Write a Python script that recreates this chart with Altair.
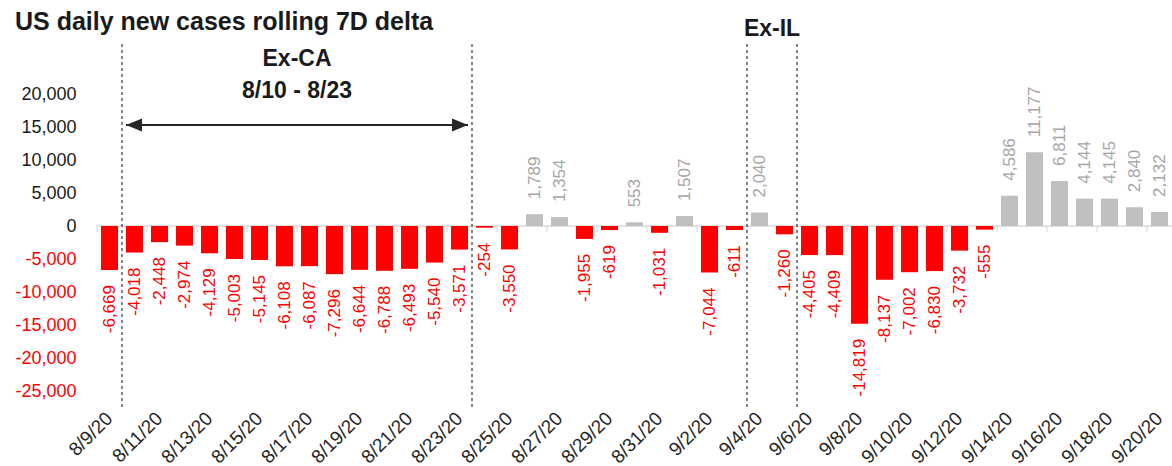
import altair as alt
import pandas as pd

# Daily change in the 7-day rolling average of new US cases
dates = [
    "8/9/20", "8/10/20", "8/11/20", "8/12/20", "8/13/20", "8/14/20", "8/15/20",
    "8/16/20", "8/17/20", "8/18/20", "8/19/20", "8/20/20", "8/21/20", "8/22/20",
    "8/23/20", "8/24/20", "8/25/20", "8/26/20", "8/27/20", "8/28/20", "8/29/20",
    "8/30/20", "8/31/20", "9/1/20", "9/2/20", "9/3/20", "9/4/20", "9/5/20",
    "9/6/20", "9/7/20", "9/8/20", "9/9/20", "9/10/20", "9/11/20", "9/12/20",
    "9/13/20", "9/14/20", "9/15/20", "9/16/20", "9/17/20", "9/18/20", "9/19/20",
    "9/20/20",
]
deltas = [
    -6669, -4018, -2448, -2974, -4129, -5003, -5145,
    -6108, -6087, -7296, -6644, -6788, -6493, -5540,
    -3571, -254, -3550, 1789, 1354, -1955, -619,
    553, -1031, 1507, -7044, -611, 2040, -1260,
    -4405, -4409, -14819, -8137, -7002, -6830, -3732,
    -555, 4586, 11177, 6811, 4144, 4145, 2840,
    2132,
]
tick_dates = dates[::2]
y_ticks = [-25000, -20000, -15000, -10000, -5000, 0, 5000, 10000, 15000, 20000]

# Period markers: the dashed separators sit after these dates
separator_after = ["8/9/20", "8/23/20", "9/3/20", "9/5/20"]
ca_start, ca_end = "8/10/20", "8/23/20"

RED = "#FF0000"
BAR_GRAY = "#BFBFBF"
LABEL_GRAY = "#A6A6A6"
DARK = "#1a1a1a"
FONT = "Liberation Sans"

# thousands separator with a plain hyphen for negatives
FMT = "replace(format({v}, ','), '\u2212', '-')"

df = pd.DataFrame({"date": dates, "delta": deltas})
df["sign"] = ["neg" if v < 0 else "pos" for v in deltas]

x_scale = alt.Scale(domain=dates, paddingInner=0.32, paddingOuter=0.16)
y_scale = alt.Scale(domain=[-25000, 20000], nice=False, zero=False)

x_axis = alt.Axis(
    values=tick_dates, labelAngle=-45, labelAlign="right",
    labelBaseline="middle", labelPadding=24, labelFontSize=19,
    labelFont=FONT, labelColor="#262626", domain=False, ticks=False,
    grid=False, labelOverlap=False, labelBound=False,
)
y_axis = alt.Axis(
    values=y_ticks, labelExpr=FMT.format(v="datum.value"),
    domain=False, ticks=False, grid=False,
    labelPadding=21, labelFontSize=18, labelFont=FONT,
    labelColor={"condition": {"test": "datum.value < 0", "value": RED}, "value": DARK},
)


def xenc(field="date", band=0.5):
    return alt.X(f"{field}:N", scale=x_scale, sort=dates, bandPosition=band, title=None, axis=x_axis)


def yenc(field):
    return alt.Y(f"{field}:Q", scale=y_scale, title=None, axis=y_axis)


bars = alt.Chart(df).mark_bar().encode(
    x=xenc(),
    y=yenc("delta"),
    color=alt.Color("sign:N", scale=alt.Scale(domain=["neg", "pos"], range=[RED, BAR_GRAY]), legend=None),
)

# Horizontal zero line with ticks between every second category
zero_line = alt.Chart(pd.DataFrame({"v": [0]})).mark_rule(color="#D9D9D9", strokeWidth=1.5).encode(
    y=yenc("v"), x=alt.value(0), x2=alt.value(1075)
)
zero_ticks = alt.Chart(pd.DataFrame({"date": tick_dates, "v": [0] * len(tick_dates)})).mark_tick(
    orient="vertical", size=6, thickness=1.5, color="#D9D9D9", yOffset=3, xOffset=-4
).encode(x=xenc(band=0), y=yenc("v"))

labelled = alt.Chart(df).transform_calculate(label=FMT.format(v="datum.delta"))

neg_labels = labelled.transform_filter("datum.delta < 0").mark_text(
    angle=270, align="right", baseline="middle", dx=-15, color=RED, font=FONT, fontSize=17
).encode(x=xenc(), y=yenc("delta"), text="label:N")

pos_labels = labelled.transform_filter("datum.delta >= 0").mark_text(
    angle=270, align="left", baseline="middle", dx=15, color=LABEL_GRAY, font=FONT, fontSize=17
).encode(x=xenc(), y=yenc("delta"), text="label:N")

separators = alt.Chart(pd.DataFrame({"date": separator_after})).mark_rule(
    color="#333333", strokeWidth=1.2, strokeDash=[3, 3], xOffset=4
).encode(x=xenc(band=1), y=alt.value(-50), y2=alt.value(314))

span = pd.DataFrame({"date": [ca_start], "date_end": [ca_end]})
arrow_line = alt.Chart(span).mark_rule(color="#262626", strokeWidth=2).encode(
    x=xenc(band=0), x2=alt.X2("date_end:N", bandPosition=1), y=alt.value(31)
)
head_left = alt.Chart(pd.DataFrame({"date": [ca_start]})).mark_point(
    shape="M-1,0L1,-0.8L1,0.8Z", size=256, filled=True, opacity=1, color="#262626", xOffset=8
).encode(x=xenc(band=0), y=alt.value(31))
head_right = alt.Chart(pd.DataFrame({"date": [ca_end]})).mark_point(
    shape="M1,0L-1,-0.8L-1,0.8Z", size=256, filled=True, opacity=1, color="#262626", xOffset=-8
).encode(x=xenc(band=1), y=alt.value(31))


def caption(text, after_date, ypix):
    # bold caption centred on the boundary after the given date
    return alt.Chart(pd.DataFrame({"date": [after_date], "text": [text]})).mark_text(
        font=FONT, fontSize=23, fontWeight="bold", color=DARK,
        baseline="middle", align="center", xOffset=4,
    ).encode(x=xenc(band=1), y=alt.value(ypix), text="text:N")


chart = alt.layer(
    zero_line, bars, zero_ticks, neg_labels, pos_labels, separators,
    arrow_line, head_left, head_right,
    caption("Ex-CA", "8/16/20", -35),
    caption("8/10 - 8/23", "8/16/20", -3),
    caption("Ex-IL", "9/4/20", -65),
).properties(
    width=1075,
    height=297,
    autosize=alt.AutoSizeParams(type="none"),
    padding={"left": 97, "top": 94, "right": 0, "bottom": 75},
    title=alt.TitleParams(
        "US daily new cases rolling 7D delta", anchor="start", frame="bounds",
        font=FONT, fontSize=25, fontWeight="bold", color=DARK, dy=21,
    ),
).configure_view(stroke=None)

chart.save("out.html", embed_options={"renderer": "svg", "actions": False})
